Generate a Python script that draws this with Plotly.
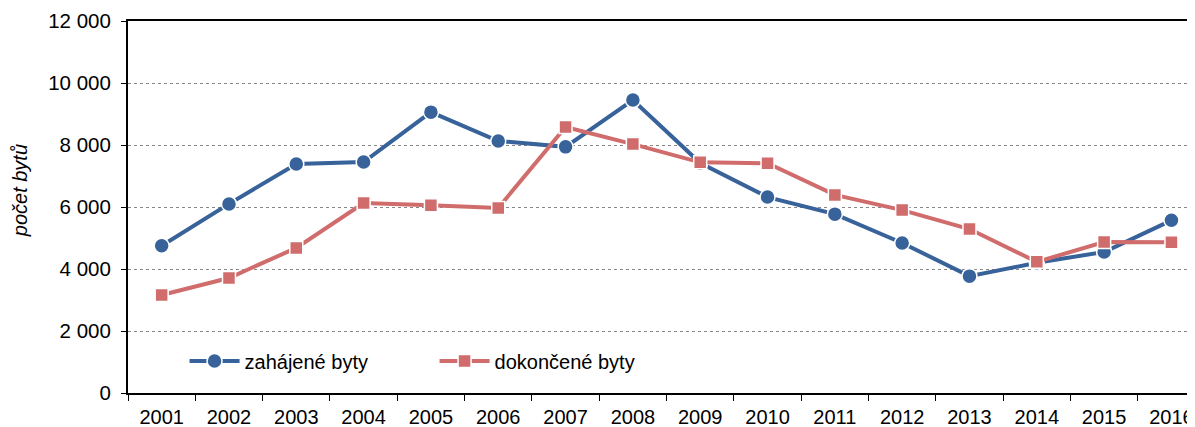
import plotly.graph_objects as go

years = ["2001", "2002", "2003", "2004", "2005", "2006", "2007", "2008",
         "2009", "2010", "2011", "2012", "2013", "2014", "2015", "2016"]
zahajene = [4750, 6100, 7390, 7450, 9060, 8130, 7940, 9450,
            7420, 6320, 5770, 4840, 3770, 4200, 4550, 5570]
dokoncene = [3160, 3710, 4680, 6130, 6060, 5970, 8580, 8030,
             7440, 7410, 6390, 5900, 5290, 4230, 4870, 4860]
y_ticks = [0, 2000, 4000, 6000, 8000, 10000, 12000]
y_ticktext = ["0", "2 000", "4 000", "6 000", "8 000", "10 000", "12 000"]

BLUE = "#38629A"
RED = "#D06C6C"
FONT = "Liberation Sans, Arial, sans-serif"

fig = go.Figure()
fig.add_trace(go.Scatter(
    x=years, y=zahajene, name="zahájené byty", mode="lines+markers",
    line=dict(color=BLUE, width=4),
    marker=dict(symbol="circle", size=15, color=BLUE, line=dict(color="white", width=1.5)),
))
fig.add_trace(go.Scatter(
    x=years, y=dokoncene, name="dokončené byty", mode="lines+markers",
    line=dict(color=RED, width=4),
    marker=dict(symbol="square", size=13, color=RED, line=dict(color="white", width=1.5)),
))

# page has an 8px body margin; figure sized to the visible area
fig.update_layout(
    width=1187, height=419,
    margin=dict(l=120, r=0, t=13, b=34, autoexpand=False),
    paper_bgcolor="white", plot_bgcolor="white",
    font=dict(family=FONT, size=20, color="#000"),
    showlegend=True,
    legend=dict(orientation="h", x=0.053, y=0.086, xanchor="left", yanchor="middle",
                bgcolor="rgba(0,0,0,0)", font=dict(size=20),
                itemwidth=50, entrywidthmode="pixels", entrywidth=185),
    annotations=[dict(
        text="<i>počet bytů</i>", xref="paper", yref="paper",
        x=-0.101, y=0.543, xanchor="center", yanchor="middle",
        textangle=-90, showarrow=False, font=dict(size=20, family=FONT),
    )],
)
fig.update_xaxes(
    type="category", range=[-0.5, 15.35], automargin=False,
    showline=True, linecolor="#000", linewidth=2, mirror=True,
    ticks="outside", tickson="boundaries", ticklen=6, tickcolor="#000", tickwidth=1,
    ticklabelstandoff=5,
    showgrid=False, tickfont=dict(size=20, family=FONT),
)
fig.update_yaxes(
    range=[0, 12000], tickvals=y_ticks, ticktext=y_ticktext, automargin=False,
    showline=True, linecolor="#000", linewidth=2,
    ticks="outside", ticklen=5, tickcolor="#000",
    ticklabelstandoff=6,
    showgrid=True, gridcolor="#888", griddash="dot", gridwidth=1,
    zeroline=False, tickfont=dict(size=20.5, family=FONT),
)

fig.write_html("out.html")
